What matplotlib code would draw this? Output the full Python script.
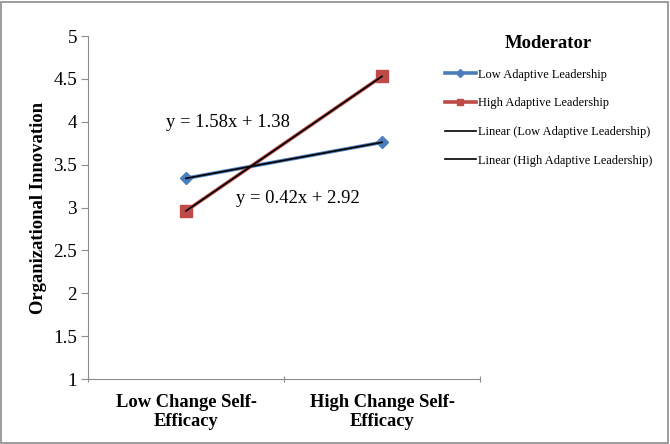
import matplotlib
matplotlib.use("Agg")
import matplotlib.pyplot as plt
from matplotlib.patches import Rectangle
import numpy as np

categories = ["Low Change Self-\nEfficacy", "High Change Self-\nEfficacy"]
low_adaptive = [3.34, 3.76]
high_adaptive = [2.96, 4.53]
series_names = ["Low Adaptive Leadership", "High Adaptive Leadership"]
trend_names = ["Linear (Low Adaptive Leadership)", "Linear (High Adaptive Leadership)"]
eq_high = "y = 1.58x + 1.38"
eq_low = "y = 0.42x + 2.92"
y_ticks = [1, 1.5, 2, 2.5, 3, 3.5, 4, 4.5, 5]
y_tick_labels = ["1", "1.5", "2", "2.5", "3", "3.5", "4", "4.5", "5"]

plt.rcParams['font.family'] = ['Liberation Serif', 'DejaVu Serif']

W, H = 670, 444
fig = plt.figure(figsize=(W/100, H/100), dpi=100)
fig.patch.set_facecolor('white')
fig.add_artist(Rectangle((1/W, 1/H), (W-3)/W, (H-3)/H, transform=fig.transFigure,
                         fill=False, edgecolor='#8c8c8c', linewidth=1.2))

ax = fig.add_axes([88/W, 1-379/H, (480-88)/W, (379-36)/H])
x = np.arange(1, len(categories)+1)

blue = '#4A7EBB'
red = '#BE4B48'
l1, = ax.plot(x, low_adaptive, color=blue, lw=2.6, marker='D', ms=6.5, label=series_names[0])
l2, = ax.plot(x, high_adaptive, color=red, lw=2.6, marker='s', ms=8, label=series_names[1])

# linear trendlines from fitted values
c1 = np.polyfit(x, low_adaptive, 1)
c2 = np.polyfit(x, high_adaptive, 1)
t1, = ax.plot(x, np.polyval(c1, x), color='black', lw=1.2, label=trend_names[0])
t2, = ax.plot(x, np.polyval(c2, x), color='black', lw=1.2, label=trend_names[1])

ax.text(1.215, 3.99, eq_high, fontsize=13.4, ha='center', va='center')
ax.text(1.57, 3.10, eq_low, fontsize=13.4, ha='center', va='center')

ax.set_xlim(0.5, len(categories)+0.5)
ax.set_ylim(1, 5)
ax.set_yticks(y_ticks)
ax.set_yticklabels(y_tick_labels, fontsize=13.8)
ax.set_xticks([0.5, 1.5, 2.5])
ax.set_xticklabels([])
ax.set_xticks(x, minor=True)
ax.set_xticklabels(categories, minor=True, fontsize=13.3, fontweight='bold', linespacing=1.1)
ax.tick_params(axis='x', which='minor', length=0, pad=11)
ax.tick_params(axis='x', which='major', length=5, color='#8c8c8c', direction='inout')
ax.tick_params(axis='y', length=5, color='#8c8c8c', direction='out', pad=3)
for s in ['top', 'right']:
    ax.spines[s].set_visible(False)
for s in ['left', 'bottom']:
    ax.spines[s].set_color('#8c8c8c')
ax.set_ylabel("Organizational Innovation", fontsize=13.4, fontweight='bold', labelpad=4)

leg = fig.legend(handles=[l1, l2, t1, t2], loc='upper left', bbox_to_anchor=(440/W, 1-30/H),
                 frameon=False, fontsize=8.9, title="Moderator", handlelength=2.5,
                 handletextpad=0.15, labelspacing=1.35, markerscale=0.6, borderaxespad=0)
leg.get_title().set_fontsize(13.4)
leg.get_title().set_fontweight('bold')
leg._legend_box.sep = 12

fig.savefig("out.png", dpi=100)
